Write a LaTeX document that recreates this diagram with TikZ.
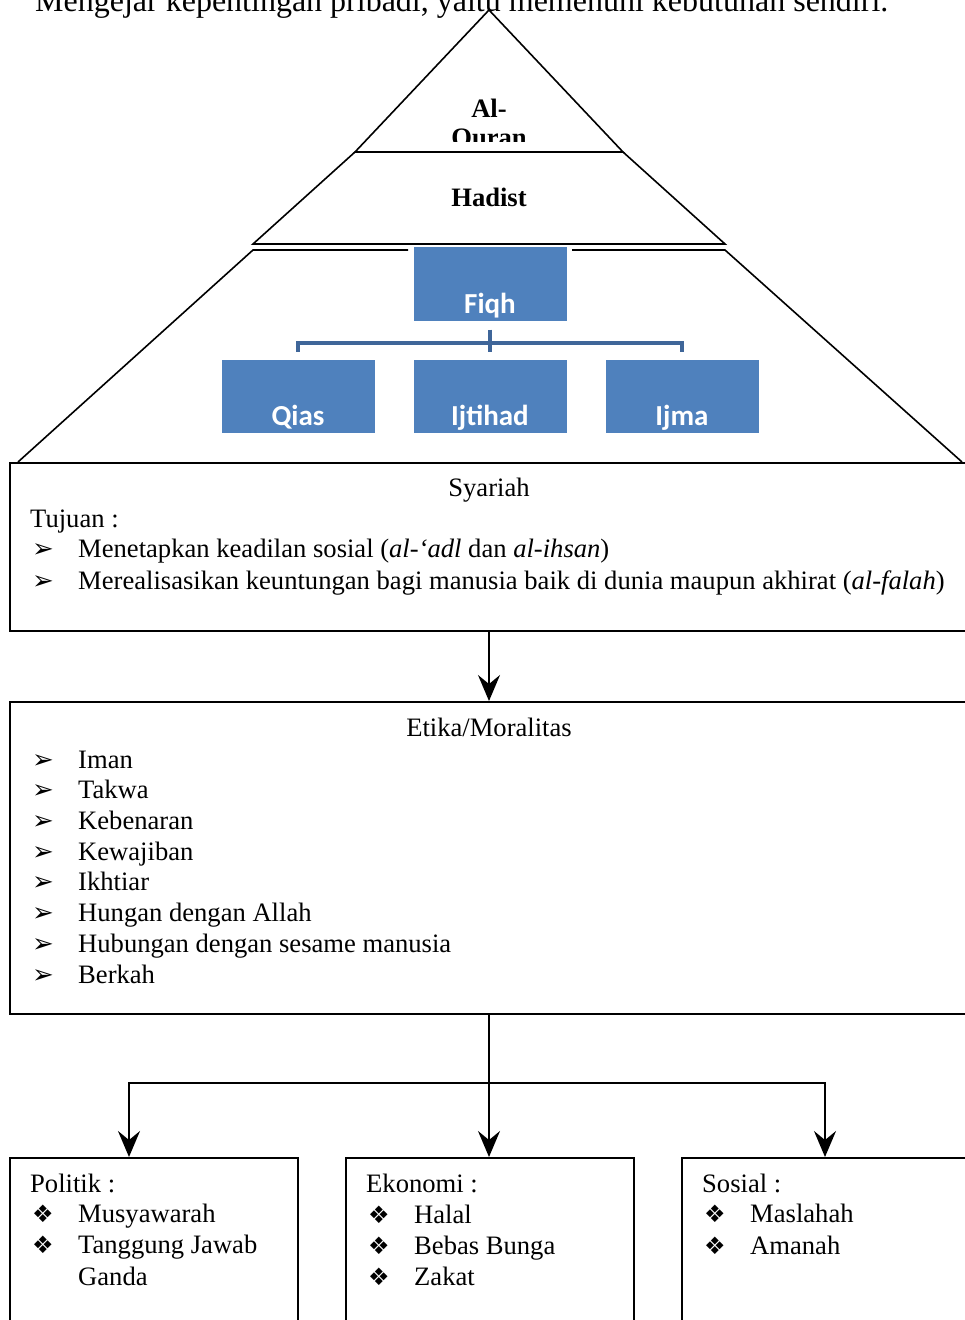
\documentclass[tikz,border=0pt]{standalone}
\usepackage{fontspec}
\setmainfont{Liberation Serif}
\newfontfamily\chartfont{Carlito}
\newfontfamily\symfont{DejaVu Sans}
\usepackage{tikz}
\usetikzlibrary{positioning,arrows.meta}
\definecolor{chartblue}{HTML}{4F81BD}
\definecolor{chartline}{HTML}{3F6699}
\newcommand{\pil}{{\symfont\fontsize{26}{28}\selectfont ➢}}
\newcommand{\wajik}{{\symfont\fontsize{24}{28}\selectfont ❖}}
\tikzset{
    every node/.style={font=\fontsize{26.6}{30}\selectfont},
    layer/.style={line width=1.6pt, line join=miter},
    orgbox/.style={rectangle, fill=chartblue, text=white, inner sep=0pt,
        minimum width=153pt, text height=66pt, text depth=7.5pt,
        font=\chartfont\bfseries\fontsize{29}{32}\selectfont},
    orgline/.style={draw=chartline, line width=4.5pt},
    panel/.style={draw, line width=1.6pt},
    txt/.style={anchor=base west, inner sep=0pt},
    flow/.style={line width=1.6pt, -{Stealth[length=26pt, width=22pt, inset=9pt]}},
}
\begin{document}
\begin{tikzpicture}[x=1pt, y=-1pt]
\useasboundingbox (0,0) rectangle (964,1320);

% teks di atas
\node[txt, font=\fontsize{32}{36}\selectfont] (atas) at (35,11) {Mengejar kepentingan pribadi, yaitu memenuhi kebutuhan sendiri.};

% piramida
\draw[layer] (355,152) -- (489,10) -- (623,152) -- cycle;
\draw[layer] (355,152) -- (253,244) -- (725,244) -- (623,152);
\draw[layer] (18,462) -- (253,250) -- (408,250);
\draw[layer] (572,250) -- (725,250) -- (962,462);
\begin{scope}
\clip (355,20) rectangle (623,141);
\node[txt, anchor=base, font=\bfseries\fontsize{26.6}{30}\selectfont] (alq1) at (489,117) {Al-};
\node[txt, anchor=base, font=\bfseries\fontsize{26.6}{30}\selectfont] (alq2) at (489,146) {Quran};
\end{scope}
\node[txt, anchor=base, font=\bfseries\fontsize{26.6}{30}\selectfont] (hadist) at (489,206) {Hadist};

% bagan fiqh
\begin{scope}[on grid]
\node[orgbox] (fiqh) at (490,284) {Fiqh};
\node[orgbox, below=112.5pt of fiqh] (ijtihad) {Ijtihad};
\node[orgbox, left=192pt of ijtihad] (qias) {Qias};
\node[orgbox, right=192pt of ijtihad] (ijma) {Ijma};
\end{scope}
\draw[orgline, shorten <=9pt, shorten >=8pt] (fiqh.south) -- (ijtihad.north);
\draw[orgline, shorten >=8pt] ([yshift=-9pt]fiqh.south) -- ++(0,13) -| (qias.north);
\draw[orgline, shorten >=8pt] ([yshift=-9pt]fiqh.south) -- ++(0,13) -| (ijma.north);

% syariah
\node[panel, minimum width=966pt, minimum height=168pt, anchor=north west] (syariah) at (9,462) {};
\node[txt, anchor=base] (syjudul) at (489,496) {Syariah};
\node[txt] (tujuan) at (30,527) {Tujuan :};
\node[txt] (t1) at (32,557) {\pil};
\node[txt] (t1x) at (78,557) {Menetapkan keadilan sosial (\textit{al-‘adl} dan \textit{al-ihsan})};
\node[txt] (t2) at (32,589) {\pil};
\node[txt] (t2x) at (78,589) {Merealisasikan keuntungan bagi manusia baik di dunia maupun akhirat (\textit{al-falah})};

% etika
\node[panel, minimum width=966pt, minimum height=312pt, anchor=north west] (etika) at (9,701) {};
\node[txt, anchor=base] (etjudul) at (489,736) {Etika/Moralitas};
\node[txt] (e1) at (32,768) {\pil};   \node[txt] (e1x) at (78,768) {Iman};
\node[txt] (e2) at (32,798) {\pil};   \node[txt] (e2x) at (78,798) {Takwa};
\node[txt] (e3) at (32,829) {\pil};   \node[txt] (e3x) at (78,829) {Kebenaran};
\node[txt] (e4) at (32,860) {\pil};   \node[txt] (e4x) at (78,860) {Kewajiban};
\node[txt] (e5) at (32,890) {\pil};   \node[txt] (e5x) at (78,890) {Ikhtiar};
\node[txt] (e6) at (32,921) {\pil};   \node[txt] (e6x) at (78,921) {Hungan dengan Allah};
\node[txt] (e7) at (32,952) {\pil};   \node[txt] (e7x) at (78,952) {Hubungan dengan sesame manusia};
\node[txt] (e8) at (32,983) {\pil};   \node[txt] (e8x) at (78,983) {Berkah};

% tiga bidang
\node[panel, minimum width=288pt, minimum height=190pt, anchor=north west] (politik) at (9,1157) {};
\node[panel, minimum width=288pt, minimum height=190pt, anchor=north west] (ekonomi) at (345,1157) {};
\node[panel, minimum width=290pt, minimum height=190pt, anchor=north west] (sosial) at (681,1157) {};

\node[txt] (p0) at (30,1192) {Politik :};
\node[txt] (p1) at (32,1222) {\wajik};  \node[txt] (p1x) at (78,1222) {Musyawarah};
\node[txt] (p2) at (32,1253) {\wajik};  \node[txt] (p2x) at (78,1253) {Tanggung Jawab};
\node[txt] (p3x) at (78,1285) {Ganda};

\node[txt] (k0) at (366,1192) {Ekonomi :};
\node[txt] (k1) at (368,1223) {\wajik};  \node[txt] (k1x) at (414,1223) {Halal};
\node[txt] (k2) at (368,1254) {\wajik};  \node[txt] (k2x) at (414,1254) {Bebas Bunga};
\node[txt] (k3) at (368,1285) {\wajik};  \node[txt] (k3x) at (414,1285) {Zakat};

\node[txt] (s0) at (702,1192) {Sosial :};
\node[txt] (s1) at (704,1222) {\wajik};  \node[txt] (s1x) at (750,1222) {Maslahah};
\node[txt] (s2) at (704,1254) {\wajik};  \node[txt] (s2x) at (750,1254) {Amanah};

% panah
\draw[flow] (syariah.south -| syjudul) -- (etika.north -| etjudul);
\coordinate (cabang) at (489,1083);
\draw[flow] (etika.south -| etjudul) -- (ekonomi.north -| etjudul);
\draw[flow] (cabang) -| ([xshift=120pt]politik.north west);
\draw[flow] (cabang) -| ([xshift=144pt]sosial.north west);
\end{tikzpicture}
\end{document}
